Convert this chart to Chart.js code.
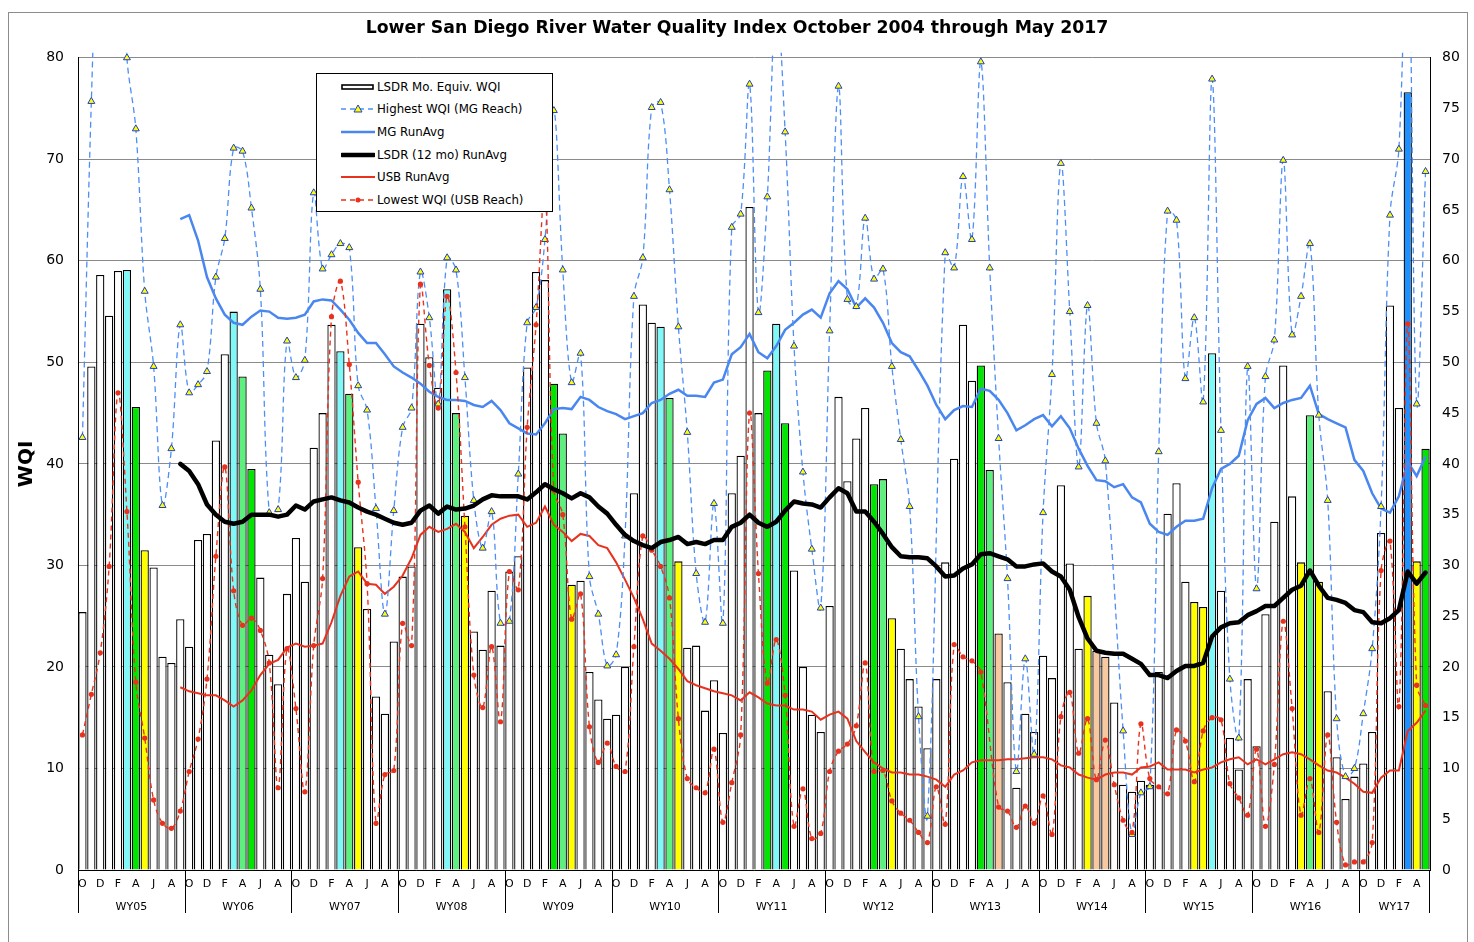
<!DOCTYPE html>
<html lang="en">
<head>
<meta charset="UTF-8">
<title>Lower San Diego River Water Quality Index</title>
<script src="https://cdn.jsdelivr.net/npm/chart.js"></script>
<style>
  body { margin: 0; background: #fff; }
  #wrap { position: relative; width: 1474px; height: 942px; }
  #legendBox {
    position: absolute; left: 316px; top: 73px; width: 235px; height: 137px;
    border: 1px solid #000; background: #fff;
    font-family: 'DejaVu Sans', Verdana, sans-serif; font-size: 11.8px; color: #000;
  }
  .row { position: absolute; left: 24px; height: 20px; display: flex; align-items: center; white-space: nowrap; }
  .row svg { width: 34px; height: 14px; margin-right: 2px; }
</style>
</head>
<body>
<div id="wrap">
  <canvas id="wqiChart" width="1474" height="942"></canvas>
  <div id="legendBox">
    <div class="row" style="top:3px"><svg viewBox="0 0 34 14"><rect x="1" y="5" width="31" height="4" fill="#fff" stroke="#000" stroke-width="1.6"/></svg>LSDR Mo. Equiv. WQI</div>
    <div class="row" style="top:25px"><svg viewBox="0 0 34 14"><line x1="0" y1="7" x2="34" y2="7" stroke="#4d8ef5" stroke-width="1.3" stroke-dasharray="5,4"/><polygon points="17,3 21,10 13,10" fill="#ffff00" stroke="#2040c0" stroke-width="1"/></svg>Highest WQI (MG Reach)</div>
    <div class="row" style="top:48px"><svg viewBox="0 0 34 14"><line x1="0" y1="7" x2="34" y2="7" stroke="#4a86f0" stroke-width="2.5"/></svg>MG RunAvg</div>
    <div class="row" style="top:71px"><svg viewBox="0 0 34 14"><line x1="1" y1="7" x2="33" y2="7" stroke="#000" stroke-width="4.5" stroke-linecap="round"/></svg>LSDR (12 mo) RunAvg</div>
    <div class="row" style="top:93px"><svg viewBox="0 0 34 14"><line x1="0" y1="7" x2="34" y2="7" stroke="#e8321e" stroke-width="2"/></svg>USB RunAvg</div>
    <div class="row" style="top:116px"><svg viewBox="0 0 34 14"><line x1="0" y1="7" x2="34" y2="7" stroke="#e8321e" stroke-width="1.3" stroke-dasharray="5,4"/><circle cx="17" cy="7" r="2.5" fill="#e8321e"/></svg>Lowest WQI (USB Reach)</div>
  </div>
</div>

<script>
// months Oct 2004 .. May 2017
const monthLetters = ['O','N','D','J','F','M','A','M','J','J','A','S'];
const monthLabels = [];
for (let i = 0; i < 152; i++) monthLabels.push(monthLetters[i % 12]);

const waterYears = ['WY05','WY06','WY07','WY08','WY09','WY10','WY11','WY12','WY13','WY14','WY15','WY16','WY17'];

// LSDR monthly equivalent WQI (bars)
const lsdrMonthly = [
  25.4, 49.6, 58.6, 54.6, 59.0, 59.1, 45.6, 31.5, 29.8, 21.0, 20.4, 24.7,
  22.0, 32.5, 33.1, 42.3, 50.8, 55.0, 48.6, 39.5, 28.8, 21.2, 18.3, 27.2,
  32.7, 28.4, 41.6, 45.0, 53.7, 51.1, 46.9, 31.8, 25.7, 17.1, 15.4, 22.5,
  28.9, 29.9, 53.8, 50.5, 47.5, 57.2, 45.0, 34.9, 23.5, 21.7, 27.5, 22.1,
  29.4, 30.9, 49.5, 58.9, 58.1, 47.9, 43.0, 28.1, 28.5, 19.5, 16.8, 14.9,
  15.3, 20.0, 37.1, 55.7, 53.9, 53.5, 46.5, 30.4, 21.9, 22.1, 15.7, 18.7,
  13.5, 37.1, 40.8, 65.3, 45.0, 49.2, 53.8, 44.0, 29.5, 20.0, 15.3, 13.6,
  26.0, 46.6, 38.3, 42.5, 45.5, 38.0, 38.5, 24.8, 21.8, 18.8, 16.1, 12.0,
  18.8, 30.3, 40.5, 53.7, 48.2, 49.7, 39.4, 23.3, 18.5, 8.1, 15.4, 13.6,
  21.1, 18.9, 37.9, 30.2, 21.8, 27.0, 21.6, 21.0, 16.5, 8.4, 7.7, 8.8,
  8.4, 19.5, 35.1, 38.1, 28.4, 26.4, 25.9, 50.9, 27.5, 13.0, 9.9, 18.8,
  12.2, 25.2, 34.3, 49.7, 36.8, 30.3, 44.8, 28.4, 17.6, 11.1, 7.0, 9.2,
  10.5, 13.6, 33.2, 55.6, 45.5, 76.6, 30.4, 41.5
];

// Highest WQI (MG reach); values above 80 run off the top of the plot
const highestMG = [
  42.6, 75.7, 99, 105, 100, 80.0, 73.0, 57.0, 49.6, 35.9, 41.5, 53.7,
  47.0, 47.8, 49.1, 58.4, 62.2, 71.1, 70.8, 65.2, 57.2, 35.2, 35.5, 52.1,
  48.5, 50.2, 66.7, 59.2, 60.6, 61.7, 61.3, 47.7, 45.3, 35.6, 25.2, 35.4,
  43.6, 45.5, 58.9, 54.4, 45.9, 60.3, 59.1, 48.5, 36.4, 31.7, 35.3, 24.3,
  24.5, 39.0, 53.9, 55.4, 62.1, 74.8, 59.1, 48.0, 50.9, 28.9, 25.2, 20.1,
  21.2, 32.9, 56.5, 60.3, 75.1, 75.6, 67.0, 53.5, 43.1, 29.2, 24.4, 36.1,
  24.3, 63.3, 64.6, 77.4, 54.9, 66.3, 86, 72.7, 51.6, 39.2, 31.6, 25.8,
  53.1, 77.2, 56.2, 55.5, 64.2, 58.2, 59.2, 49.6, 42.4, 35.8, 15.1, 5.3,
  null, 60.8, 59.3, 68.3, 62.1, 79.6, 59.3, 42.5, 28.7, 9.7, 20.8, 11.4,
  35.2, 48.8, 69.6, 55.0, 39.7, 55.6, 44.0, 40.3, null, 13.7, 3.5, 7.6,
  8.2, 41.2, 64.9, 64.0, 48.4, 54.4, 46.1, 77.9, 43.3, 18.8, 13.0, 49.6,
  27.7, 48.6, 52.2, 69.9, 52.7, 56.5, 61.7, 44.8, 36.4, 14.9, 9.2, 10.0,
  15.4, 21.8, 35.8, 64.5, 71.0, 95, 45.9, 68.8
];

// Lowest WQI (USB reach)
const lowestUSB = [
  13.3, 17.3, 21.4, 29.9, 47.0, 35.3, 18.5, 13.0, 6.9, 4.6, 4.1, 5.8,
  9.7, 12.9, 18.8, 30.9, 39.7, 27.5, 24.1, 24.8, 23.6, 20.4, 8.1, 21.8,
  15.9, 7.7, 22.1, 28.7, 54.5, 58.0, 49.8, 38.2, 28.2, 4.6, 9.4, 9.8,
  24.3, 22.1, 57.7, 49.7, 45.5, 56.5, 49.0, 33.8, 19.2, 16.0, 22.0, 14.6,
  29.4, 27.6, 43.6, 53.7, 67, 37.4, 35.0, 24.7, 27.2, 14.1, 10.6, 12.5,
  10.2, 9.7, 22.0, 32.9, 31.5, 29.9, 26.8, 14.9, 9.0, 8.1, 7.6, 11.9,
  4.7, 8.6, 13.3, 45.0, 29.2, 18.4, 22.7, 17.2, 4.3, 8.0, 3.1, 3.6,
  9.7, 11.7, 12.4, 14.2, 20.4, 9.7, 9.8, 6.8, 5.6, 4.9, 3.7, 2.7,
  8.2, 4.5, 22.2, 21.0, 20.6, 19.5, null, 6.2, 5.8, 4.2, 6.3, 4.6,
  7.3, 3.5, 15.1, 17.5, 11.5, 14.9, 8.9, 12.8, 8.4, 4.9, 3.7, 14.4,
  9.0, 8.2, 7.5, 13.8, 12.7, 8.7, 13.7, 15.0, 14.8, 8.5, 7.1, 5.4,
  11.9, 4.3, 10.4, 24.5, 15.9, 5.4, 9.0, 3.7, 13.3, 4.7, 0.5, 0.8,
  0.8, 2.7, 29.5, 32.4, 16.1, 53.8, 18.2, 16.2
];

// running averages (start after the first 11 months)
const mgRunAvg = [
  null, null, null, null, null, null, null, null, null, null, null, 64.1,
  64.5, 62.0, 58.4, 56.3, 54.7, 53.9, 53.7, 54.5, 55.1, 55.0, 54.4, 54.3,
  54.4, 54.7, 56.0, 56.2, 56.1, 55.2, 54.2, 52.9, 51.9, 51.9, 50.8, 49.6,
  49.0, 48.5, 47.9, 47.1, 46.6, 46.3, 46.3, 46.2, 45.8, 45.6, 46.2, 45.3,
  44.0, 43.5, 43.0, 42.9, 44.0, 45.4, 45.5, 45.4, 46.6, 46.3, 45.6, 45.2,
  44.9, 44.4, 44.7, 45.0, 46.0, 46.3, 46.9, 47.3, 46.7, 46.7, 46.6, 48.0,
  48.3, 50.8, 51.5, 52.8, 51.0, 50.4, 51.6, 53.2, 53.9, 54.7, 55.2, 54.4,
  56.8, 58.0, 57.2, 55.4, 56.3, 55.4, 53.9, 51.9, 51.0, 50.6, 49.2, 47.7,
  45.8, 44.4, 45.3, 45.7, 45.6, 47.4, 47.2, 46.3, 45.0, 43.3, 43.8, 44.4,
  44.8, 43.7, 44.7, 43.5, 41.5, 39.8, 38.4, 38.3, 37.7, 38.0, 36.7, 36.2,
  34.1, 33.3, 33.0, 33.8, 34.4, 34.4, 34.6, 37.6, 39.5, 40.0, 40.8, 44.3,
  45.9, 46.5, 45.5, 46.0, 46.3, 46.5, 47.7, 44.9, 44.4, 44.0, 43.6, 40.4,
  39.3, 37.1, 35.6, 35.2, 36.8, 40.2, 38.8, 40.7
];

const lsdrRunAvg = [
  null, null, null, null, null, null, null, null, null, null, null, 40.0,
  39.3, 38.0, 36.0, 35.0, 34.3, 34.1, 34.3, 35.0, 35.0, 35.0, 34.8, 35.0,
  35.9, 35.5, 36.3, 36.5, 36.7, 36.4, 36.2, 35.7, 35.3, 35.0, 34.6, 34.2,
  34.0, 34.2, 35.4, 35.9, 35.1, 35.8, 35.5, 35.6, 35.9, 36.5, 36.9, 36.8,
  36.8, 36.8, 36.5, 37.2, 38.0, 37.5, 37.1, 36.6, 37.1, 36.7, 35.8, 35.1,
  34.0, 33.0, 32.4, 32.0, 31.7, 32.3, 32.5, 32.8, 32.1, 32.3, 32.1, 32.5,
  32.5, 33.8, 34.2, 35.0, 34.2, 33.8, 34.3, 35.4, 36.3, 36.1, 36.0, 35.7,
  36.7, 37.6, 37.1, 35.3, 35.3, 34.3, 33.1, 31.8, 30.9, 30.8, 30.8, 30.7,
  29.9, 28.9, 29.0, 29.7, 30.1, 31.1, 31.2, 30.9, 30.6, 29.9, 29.9, 30.1,
  30.2, 29.4, 28.9, 27.6, 24.9, 22.8, 21.6, 21.4, 21.3, 21.3, 20.8, 20.3,
  19.2, 19.2, 18.9, 19.6, 20.1, 20.1, 20.4, 23.0, 23.9, 24.3, 24.4, 25.1,
  25.5, 26.0, 26.0, 26.8, 27.6, 28.0, 29.5, 28.0, 26.8, 26.6, 26.3, 25.6,
  25.4, 24.4, 24.3, 24.8, 25.6, 29.4, 28.2, 29.3
];

const usbRunAvg = [
  null, null, null, null, null, null, null, null, null, null, null, 18.0,
  17.6, 17.4, 17.2, 17.2, 16.7, 16.1, 16.7, 17.7, 19.2, 20.3, 20.7, 21.9,
  22.3, 22.0, 22.1, 22.3, 24.4, 27.0, 28.9, 29.4, 28.2, 28.1, 27.2, 27.9,
  29.0, 30.7, 33.0, 33.8, 33.3, 33.6, 34.1, 33.3, 31.7, 32.8, 34.0, 34.6,
  34.9, 35.0, 33.8, 34.2, 35.8, 34.0, 33.3, 32.4, 33.1, 32.9, 32.0, 31.7,
  30.3, 28.6, 26.8, 24.7, 22.3, 21.6, 20.8, 19.8, 18.6, 18.2, 17.9, 17.6,
  17.4, 17.2, 16.7, 17.5, 17.0, 16.4, 16.2, 16.2, 15.8, 15.8, 15.6, 14.8,
  15.3, 15.6, 14.9, 12.7, 11.6, 10.6, 10.0, 9.6, 9.6, 9.4, 9.4, 9.2,
  8.9, 8.2, 9.4, 9.8, 10.6, 10.8, 10.8, 10.8, 10.9, 10.9, 11.0, 11.1,
  11.1, 10.9, 10.3, 10.1, 9.4, 9.1, 8.9, 9.4, 9.6, 9.6, 9.4, 10.1,
  10.2, 10.6, 9.9, 9.9, 9.9, 9.6, 9.9, 10.1, 10.6, 10.9, 11.1, 10.4,
  10.9, 10.4, 10.9, 11.4, 11.6, 11.4, 10.9, 10.3, 9.8, 9.6, 9.1, 8.5,
  7.7, 7.6, 9.1, 9.8, 9.8, 13.7, 14.5, 15.7
];

// spring bars that are shaded (month index -> fill)
const shade = {
  cyan: '#80f8f8', green: '#00e600', light: '#5ef07e',
  yellow: '#ffff00', peach: '#f8c8a0', blue: '#1e90ff'
};
const shadedBars = {
  5: 'cyan', 6: 'green', 7: 'yellow',
  17: 'cyan', 18: 'light', 19: 'green',
  29: 'cyan', 30: 'light', 31: 'yellow',
  41: 'cyan', 42: 'light', 43: 'yellow',
  53: 'green', 54: 'light', 55: 'yellow',
  65: 'cyan', 66: 'light', 67: 'yellow',
  77: 'green', 78: 'cyan', 79: 'green',
  89: 'green', 90: 'light', 91: 'yellow',
  101: 'green', 102: 'light', 103: 'peach',
  113: 'yellow', 114: 'peach', 115: 'peach',
  125: 'yellow', 126: 'yellow', 127: 'cyan',
  137: 'yellow', 138: 'light', 139: 'yellow',
  149: 'blue', 150: 'yellow', 151: 'green'
};
const barFill = lsdrMonthly.map((v, i) => shadedBars[i] ? shade[shadedBars[i]] : '#ffffff');

const FONT = "'DejaVu Sans', Verdana, sans-serif";
Chart.defaults.font.family = FONT;
Chart.defaults.color = '#000';

// frame, water-year separators and WY labels under the month letters
const waterYearAxis = {
  id: 'waterYearAxis',
  beforeDraw(chart) {
    const ctx = chart.ctx;
    ctx.save();
    ctx.fillStyle = '#fff';
    ctx.fillRect(0, 0, chart.width, chart.height);
    ctx.strokeStyle = '#8c8c8c';
    ctx.lineWidth = 1;
    ctx.strokeRect(8.5, 12.5, 1459, 940);
    ctx.restore();
  },
  afterDraw(chart) {
    const {ctx, chartArea} = chart;
    const x = chart.scales.x;
    const step = (x.right - x.left) / monthLabels.length;
    ctx.save();
    ctx.strokeStyle = '#000';
    ctx.lineWidth = 1;
    ctx.fillStyle = '#000';
    ctx.font = '11px ' + FONT;
    ctx.textAlign = 'center';
    ctx.textBaseline = 'middle';
    waterYears.forEach((wy, k) => {
      const start = k * 12;
      const end = Math.min(start + 12, monthLabels.length);
      const x0 = Math.round(x.left + start * step) + 0.5;
      ctx.beginPath();
      ctx.moveTo(x0, chartArea.bottom);
      ctx.lineTo(x0, chartArea.bottom + 43);
      ctx.stroke();
      ctx.fillText(wy, x.left + (start + end) / 2 * step, chartArea.bottom + 37);
    });
    const xr = Math.round(x.right) - 0.5;
    ctx.beginPath();
    ctx.moveTo(xr, chartArea.bottom);
    ctx.lineTo(xr, chartArea.bottom + 43);
    ctx.stroke();
    ctx.restore();
  }
};

new Chart(document.getElementById('wqiChart').getContext('2d'), {
  type: 'bar',
  data: {
    labels: monthLabels,
    datasets: [
      {
        type: 'line', label: 'LSDR (12 mo) RunAvg', data: lsdrRunAvg,
        borderColor: '#000', borderWidth: 4.5, pointRadius: 0, tension: 0,
        borderCapStyle: 'round', borderJoinStyle: 'round', order: 1
      },
      {
        type: 'line', label: 'Lowest WQI (USB Reach)', data: lowestUSB,
        borderColor: '#e8321e', borderWidth: 1.4, borderDash: [5, 4],
        pointRadius: 2.6, pointBackgroundColor: '#e8321e', pointBorderColor: '#e8321e',
        pointBorderWidth: 0, tension: 0.35, spanGaps: true, order: 2
      },
      {
        type: 'line', label: 'Highest WQI (MG Reach)', data: highestMG,
        borderColor: '#4d8ef5', borderWidth: 1.3, borderDash: [6, 4],
        pointStyle: 'triangle', pointRadius: 4, pointBackgroundColor: '#ffff00',
        pointBorderColor: '#2040c0', pointBorderWidth: 1,
        tension: 0.35, spanGaps: true, clip: {left: 0, top: 5, right: 0, bottom: 0}, order: 3
      },
      {
        type: 'line', label: 'USB RunAvg', data: usbRunAvg,
        borderColor: '#e8321e', borderWidth: 2, pointRadius: 0, tension: 0, order: 4
      },
      {
        type: 'line', label: 'MG RunAvg', data: mgRunAvg,
        borderColor: '#4a86f0', borderWidth: 2.5, pointRadius: 0, tension: 0, order: 5
      },
      {
        type: 'bar', label: 'LSDR Mo. Equiv. WQI', data: lsdrMonthly,
        backgroundColor: barFill, borderColor: '#000', borderWidth: 1.3,
        categoryPercentage: 1.0, barPercentage: 0.93, order: 10
      }
    ]
  },
  options: {
    responsive: false,
    animation: false,
    events: [],
    layout: { padding: { left: 0, right: 0, top: 0, bottom: 0 } },
    plugins: {
      legend: { display: false },
      tooltip: { enabled: false },
      title: {
        display: true,
        text: 'Lower San Diego River Water Quality Index October 2004 through May 2017',
        font: { size: 17.3, weight: 'bold' },
        color: '#000',
        padding: { top: 18, bottom: 19 }
      }
    },
    scales: {
      x: {
        offset: true,
        grid: { display: false, drawTicks: false },
        border: { color: '#000', width: 1 },
        ticks: {
          autoSkip: false, maxRotation: 0, minRotation: 0, padding: 8,
          font: { size: 11 }, color: '#000',
          callback: (v, i) => (i % 2 === 0 ? monthLabels[i] : '')
        },
        afterFit(s) { s.height = 72; }
      },
      y: {
        position: 'left', min: 0, max: 80,
        ticks: { stepSize: 10, font: { size: 14 }, color: '#000', padding: 14 },
        grid: { color: '#8a8a8a', lineWidth: 1, drawTicks: false },
        border: { color: '#000', width: 1 },
        title: { display: true, text: 'WQI', font: { size: 20, weight: 'bold' }, color: '#000', padding: { top: 15, bottom: 0 } },
        afterFit(s) { s.width = 78; }
      },
      y2: {
        position: 'right', min: 0, max: 80,
        ticks: { stepSize: 5, font: { size: 14 }, color: '#000', padding: 12 },
        grid: { display: false, drawTicks: false },
        border: { color: '#000', width: 1 },
        afterFit(s) { s.width = 44; }
      }
    }
  },
  plugins: [waterYearAxis]
});
</script>
</body>
</html>
